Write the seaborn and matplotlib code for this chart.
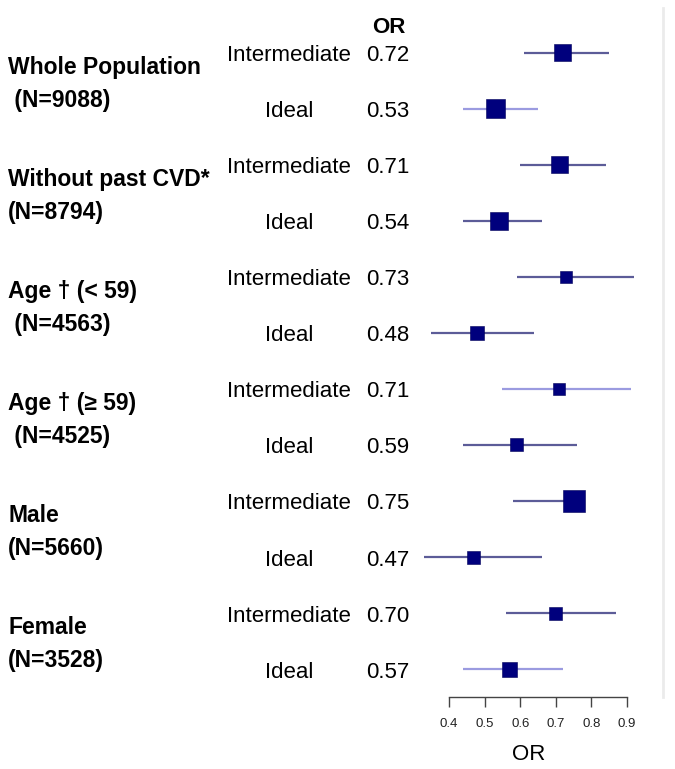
import pandas as pd
import matplotlib
matplotlib.use('Agg')
import matplotlib.pyplot as plt
import matplotlib.transforms as mtransforms
import seaborn as sns

# Subgroups (two lines of label each)
groups = ['Whole Population', 'Without past CVD*', 'Age \u2020 (< 59)', 'Age \u2020 (\u2265 59)', 'Male', 'Female']
group_n = [' (N=9088)', '(N=8794)', ' (N=4563)', ' (N=4525)', '(N=5660)', '(N=3528)']
levels = ['Intermediate', 'Ideal']

# Odds ratios and 95% CI, rows in order Intermediate / Ideal per group
odds_ratio = [0.72, 0.53, 0.71, 0.54, 0.73, 0.48, 0.71, 0.59, 0.75, 0.47, 0.70, 0.57]
ci_low = [0.61, 0.44, 0.60, 0.44, 0.59, 0.35, 0.55, 0.44, 0.58, 0.33, 0.56, 0.44]
ci_high = [0.85, 0.65, 0.84, 0.66, 0.92, 0.64, 0.91, 0.76, 0.77, 0.66, 0.87, 0.72]
# relative box weight as drawn
weight = [17, 19, 17, 18, 12, 14, 12, 13, 22, 13, 13, 15]

x_ticks = [0.4, 0.5, 0.6, 0.7, 0.8, 0.9]

rows = []
for g in range(len(groups)):
    for k, lev in enumerate(levels):
        i = 2 * g + k
        rows.append({'row': i, 'group': groups[g], 'level': lev, 'OR': odds_ratio[i],
                     'lo': ci_low[i], 'hi': ci_high[i], 'weight': weight[i]})
df = pd.DataFrame(rows)
# marker area in pt^2 from box width in px (dpi 100)
df['area'] = (df['weight'] * 0.72) ** 2

sns.set_style('white')
plt.rcParams['font.family'] = ['Liberation Sans', 'DejaVu Sans']
plt.rcParams['text.color'] = 'black'
plt.rcParams['axes.labelcolor'] = 'black'

fig = plt.figure(figsize=(6.75, 7.69), dpi=100)
W, H = 675, 769
# x: 0.4 -> px 449, 0.9 -> px 627 ; xlim 0.3..1.0
px_per = (627 - 449) / 0.5
left_px = 449 - 0.1 * px_per
right_px = 449 + 0.6 * px_per
ax = fig.add_axes([left_px / W, (H - 697) / H, (right_px - left_px) / W, 697 / H])

light_rows = {1, 6, 11}
dark_line = '#5c5c98'
light_line = '#9b9be0'
for _, r in df.iterrows():
    ax.hlines(r['row'], r['lo'], r['hi'],
              color=light_line if r['row'] in light_rows else dark_line, lw=1.6, zorder=1)

amin, amax = df['area'].min(), df['area'].max()
sns.scatterplot(data=df, x='OR', y='row', size='area', sizes=(amin, amax), size_norm=(amin, amax),
                marker='s', color='#00007d', edgecolor='#00005a', linewidth=0.4,
                legend=False, ax=ax, zorder=3)

ax.set_xlim(0.3, 1.0)
ax.set_ylim(11.5, -53 / 56)
ax.set_yticks([])
ax.set_ylabel('')
ax.set_xticks(x_ticks)
ax.set_xticklabels([f'{t:.1f}' for t in x_ticks])
ax.tick_params(axis='x', direction='out', length=7, width=1, color='#444444',
               labelsize=9.5, labelcolor='#222222', pad=8, bottom=True)
for s in ['top', 'left']:
    ax.spines[s].set_visible(False)
ax.spines['bottom'].set_bounds(0.4, 0.9)
ax.spines['bottom'].set_color('#444444')
ax.spines['bottom'].set_linewidth(1)
ax.spines['right'].set_color('#ebebeb')
ax.spines['right'].set_linewidth(2)
ax.spines['right'].set_bounds(11.5, -45 / 56)
ax.patch.set_alpha(0)

ax.set_xlabel('OR', fontsize=16)
ax.xaxis.label.set_va('center')
ax.xaxis.set_label_coords((529 - left_px) / (right_px - left_px), -58 / 697)

tr = mtransforms.blended_transform_factory(fig.transFigure, ax.transData)
dy = 3 / 56
for _, r in df.iterrows():
    ax.text(289 / W, r['row'] + dy, r['level'], transform=tr, ha='center', va='center', fontsize=16)
    ax.text(366 / W, r['row'] + dy, f"{r['OR']:.2f}", transform=tr, ha='left', va='center', fontsize=16)

for g in range(len(groups)):
    mid = 2 * g + 0.5
    ax.text(8 / W, mid - 13 / 56, groups[g], transform=tr, ha='left', va='center',
            fontsize=16.5, fontweight='bold')
    ax.text(8 / W, mid + 20 / 56, group_n[g], transform=tr, ha='left', va='center',
            fontsize=16.5, fontweight='bold')

ax.text(389 / W, -25 / 56, 'OR', transform=tr, ha='center', va='center', fontsize=16, fontweight='bold')

fig.savefig('out.png', dpi=100)
